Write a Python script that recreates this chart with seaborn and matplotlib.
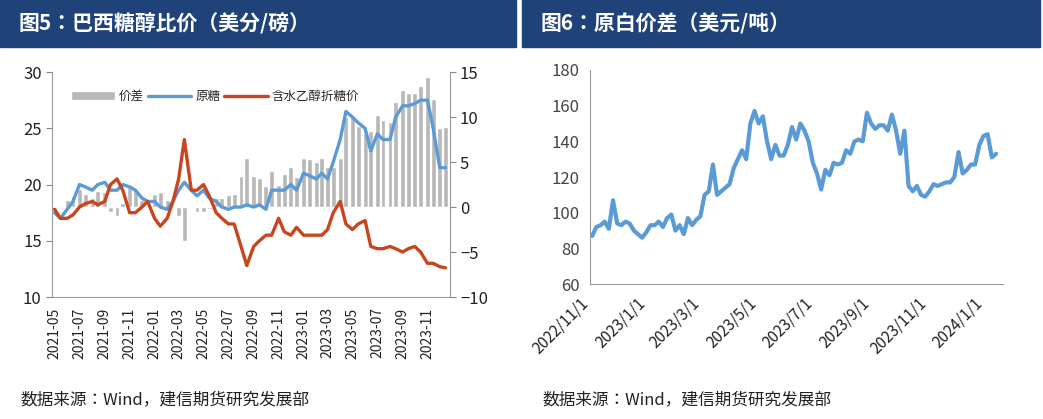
import matplotlib
matplotlib.use('Agg')
import matplotlib.pyplot as plt
from matplotlib.patches import Rectangle
import seaborn as sns
import pandas as pd
import numpy as np

sns.set_style('white')
plt.rcParams['font.family'] = 'sans-serif'
plt.rcParams['font.sans-serif'] = ['Noto Sans CJK JP', 'DejaVu Sans']

BLUE = '#5b9bd5'
RED = '#c8461f'
NAVY = '#1f4379'

# 图5 数据（半月度，2021-05 ~ 2023-12）
raw_sugar = [17.5, 17.0, 17.8, 18.5, 20.0, 19.8, 19.5, 20.0, 20.2, 19.5, 19.5, 20.0,
             19.8, 19.5, 18.8, 18.5, 18.5, 18.0, 17.8, 18.5, 19.5, 20.2, 19.5, 19.0,
             19.5, 18.8, 18.5, 18.0, 17.8, 18.0, 18.0, 18.2, 18.0, 18.2, 17.8, 19.5,
             19.5, 19.5, 20.0, 19.5, 21.0, 20.8, 20.5, 21.0, 20.5, 22.0, 24.0, 26.5,
             26.0, 25.5, 25.0, 23.0, 24.5, 24.0, 24.0, 26.0, 27.0, 27.0, 27.2, 27.5,
             27.5, 25.0, 21.5, 21.5]
ethanol = [17.8, 17.0, 17.0, 17.3, 18.0, 18.3, 18.5, 18.2, 18.5, 20.0, 20.5, 19.5,
           17.5, 17.5, 18.0, 18.5, 17.0, 16.3, 17.0, 18.5, 20.5, 24.0, 19.5, 19.5,
           20.0, 19.0, 17.5, 17.0, 16.5, 16.5, 14.5, 12.8, 14.5, 15.0, 15.5, 15.5,
           17.0, 15.8, 15.5, 16.2, 15.5, 15.5, 15.5, 15.5, 16.0, 17.5, 18.5, 16.5,
           16.0, 16.5, 16.8, 14.5, 14.3, 14.3, 14.5, 14.3, 14.0, 14.3, 14.5, 14.0,
           13.0, 13.0, 12.7, 12.6]
left_dates = pd.date_range('2021-05-01', periods=len(raw_sugar), freq='SMS')
spread = np.array(raw_sugar) - np.array(ethanol)
left_ticks = pd.date_range('2021-05-01', '2023-11-01', freq='2MS')

# 图6 数据（周度，2022-11 ~ 2024-01）
white_premium = [87, 92, 93, 95, 91, 107, 94, 93, 95, 94, 90, 88, 86, 89, 93,
                 93, 95, 92, 97, 99, 90, 93, 88, 97, 93, 96, 98, 110, 112, 127,
                 110, 112, 114, 116, 125, 130, 135, 130, 150, 157, 150, 154, 140, 130, 138,
                 132, 132, 138, 148, 141, 150, 146, 140, 128, 122, 113, 124, 121, 128, 127,
                 128, 135, 133, 140, 141, 140, 156, 150, 147, 149, 149, 146, 155, 146, 133,
                 146, 115, 112, 115, 110, 109, 112, 116, 115, 116, 117, 117, 120, 134, 122,
                 124, 127, 127, 138, 143, 144, 131, 133]
t0, t1 = pd.Timestamp('2022-11-01'), pd.Timestamp('2024-01-12')
right_dates = pd.to_datetime(np.linspace(t0.value, t1.value, len(white_premium)))
right_ticks = pd.date_range('2022-11-01', '2024-01-01', freq='2MS')

fig = plt.figure(figsize=(10.43, 4.19), dpi=100)

# 标题栏
for x0, w, title in [(0.0, 0.495, '图5：巴西糖醇比价（美分/磅）'),
                     (0.5, 0.497, '图6：原白价差（美元/吨）')]:
    fig.patches.append(Rectangle((x0, 0.888), w, 0.112, transform=fig.transFigure,
                                 color=NAVY, zorder=0))
    fig.text(x0 + 0.018, 0.944, title, color='white', fontsize=15, fontweight='bold',
             va='center')
for x0 in [0.02, 0.52]:
    fig.text(x0, 0.045, '数据来源：Wind，建信期货研究发展部', fontsize=12,
             style='italic', va='center', color='#222222')

# 左图
ax1 = fig.add_axes([0.05, 0.291, 0.381, 0.537])
ax2 = ax1.twinx()
ax2.bar(left_dates, spread, width=12, color='#b8b8b8', label='价差', zorder=1)
ax1.set_zorder(ax2.get_zorder() + 1)
ax1.patch.set_visible(False)
sns.lineplot(x=left_dates, y=raw_sugar, ax=ax1, color=BLUE, linewidth=2.4, label='原糖')
sns.lineplot(x=left_dates, y=ethanol, ax=ax1, color=RED, linewidth=2.4, label='含水乙醇折糖价')
ax1.set_ylim(10, 30)
ax1.set_yticks([10, 15, 20, 25, 30])
ax2.set_ylim(-10, 15)
ax2.set_yticks([-10, -5, 0, 5, 10, 15])
ax1.set_xlim(pd.Timestamp('2021-04-25'), pd.Timestamp('2023-12-25'))
ax1.set_xticks(left_ticks)
ax1.set_xticklabels([d.strftime('%Y-%m') for d in left_ticks], rotation=90, fontsize=10)
ax1.set_xlabel('')
for a in (ax1, ax2):
    a.tick_params(axis='y', labelsize=12, length=4, color='#888888', labelcolor='#222222')
    for s in a.spines.values():
        s.set_visible(False)
ax1.spines['left'].set_visible(True)
ax1.spines['bottom'].set_visible(True)
ax2.spines['right'].set_visible(True)
for s in ['left', 'bottom']:
    ax1.spines[s].set_color('#999999')
ax2.spines['right'].set_color('#999999')
ax1.tick_params(axis='x', length=4, color='#888888', labelcolor='#222222')
h1, l1 = ax1.get_legend_handles_labels()
h2, l2 = ax2.get_legend_handles_labels()
ax1.legend(h2 + h1, l2 + l1, ncol=3, frameon=False, loc='upper left',
           bbox_to_anchor=(0.02, 0.97), fontsize=9, handlelength=3.5, columnspacing=0.3,
           handletextpad=0.3)

# 右图
ax3 = fig.add_axes([0.566, 0.322, 0.396, 0.511])
sns.lineplot(x=right_dates, y=white_premium, ax=ax3, color=BLUE, linewidth=3)
ax3.set_ylim(60, 180)
ax3.set_yticks(range(60, 181, 20))
ax3.set_xlim(pd.Timestamp('2022-10-30'), pd.Timestamp('2024-01-20'))
ax3.set_xticks(right_ticks)
ax3.set_xticklabels([f'{d.year}/{d.month}/1' for d in right_ticks], rotation=45,
                    ha='right', fontsize=11)
ax3.set_xlabel('')
ax3.tick_params(axis='y', labelsize=12, length=4, color='#888888', labelcolor='#444444')
ax3.tick_params(axis='x', length=4, color='#888888', labelcolor='#222222')
sns.despine(ax=ax3)
for s in ['left', 'bottom']:
    ax3.spines[s].set_color('#999999')

fig.savefig('out.png', dpi=100)
